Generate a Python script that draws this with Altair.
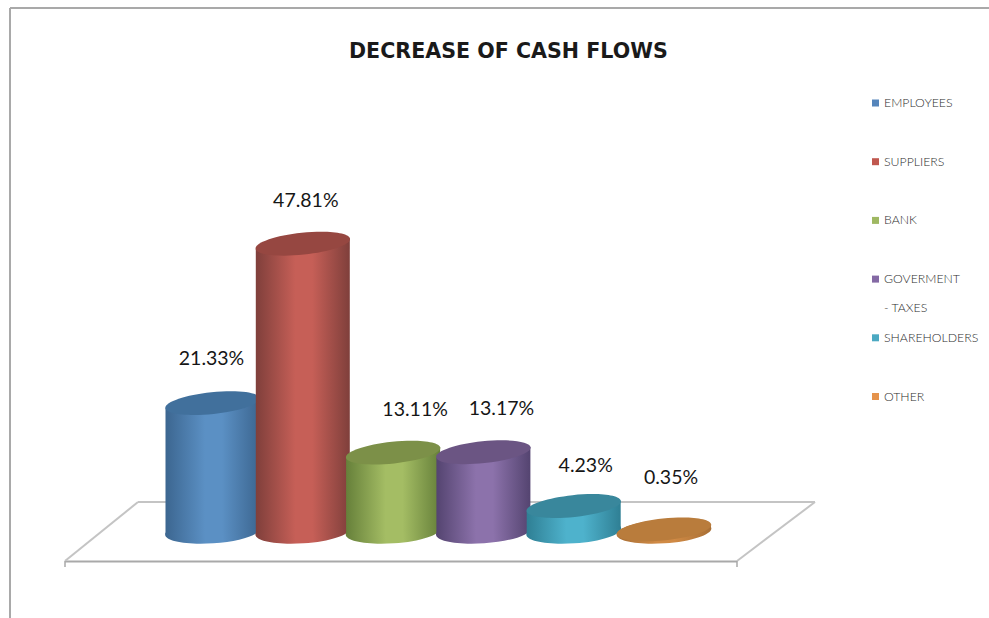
import altair as alt
import pandas as pd

# Chart values
CATEGORIES = ["EMPLOYEES", "SUPPLIERS", "BANK", "GOVERMENT - TAXES", "SHAREHOLDERS", "OTHER"]
SHARES = [21.33, 47.81, 13.11, 13.17, 4.23, 0.35]
LEGEND_LINES = ["EMPLOYEES", "SUPPLIERS", "BANK", "GOVERMENT", "- TAXES", "SHAREHOLDERS", "OTHER"]
LEGEND_ROWS = [0, 1, 2, 3, 3.5, 4, 5]
LEGEND_SWATCH_ROWS = [0, 1, 2, 3, 4, 5]

# Colours per cylinder: legend swatch, cap, shaded edge, lit centre
SWATCH = ["#5585bb", "#c0584f", "#9fb862", "#8469a4", "#4ba9c2", "#e5934c"]
CAP = ["#41709c", "#964741", "#7c9048", "#6b5583", "#39879c", "#b97c3c"]
EDGE = ["#3c6690", "#7f3f3b", "#66803a", "#544470", "#2f7f94", "#a86f35"]
LIT = ["#5b90c4", "#c65f57", "#a4bd64", "#8c72ab", "#4eb2cc", "#d08a45"]

# Small nudges that keep the percentage labels clear of neighbouring cylinders
LABEL_DX = [-1, 3, 22, 18, 12, 7]
LABEL_DY = [-44, -43, -43, -43, -40, -51]

W, H = 989, 618
PX_PER_SLOT = 90.3
FIRST_CENTRE = 212.5
PX_PER_PCT = 6.02
BASE_Y = 531.5
CAP_RX = 47.5
HALF_SLOT = 47.0 / PX_PER_SLOT
TOP_SLANT = 5.2 / PX_PER_PCT
BOTTOM_SLANT = 2.6 / PX_PER_PCT

# Scales map slot numbers and percentages onto the full canvas
x_scale = alt.Scale(domain=[-FIRST_CENTRE / PX_PER_SLOT, (W - FIRST_CENTRE) / PX_PER_SLOT], range=[0, W], nice=False, zero=False)
y_scale = alt.Scale(domain=[-(H - BASE_Y) / PX_PER_PCT, BASE_Y / PX_PER_PCT], range=[H, 0], nice=False, zero=False)
row_scale = alt.Scale(domain=[-103 / 58.7, (H - 103) / 58.7], range=[0, H], nice=False, zero=False)

CAP_ELLIPSE = "M -1 0 A 1 0.23 0 1 1 1 0 A 1 0.23 0 1 1 -1 0 Z"
BASE_ELLIPSE = "M -1 0 A 1 0.25 0 1 1 1 0 A 1 0.25 0 1 1 -1 0 Z"
GREY = "#a9a9a9"
FLOOR = "#c4c4c4"


def rule(x1, y1, x2, y2, color, width):
    return alt.Chart().mark_rule(color=color, strokeWidth=width).encode(
        x=alt.value(x1), x2=alt.value(x2), y=alt.value(y1), y2=alt.value(y2)
    )


def shading(edge, lit):
    return alt.LinearGradient(
        gradient="linear", x1=0, x2=1, y1=0, y2=0,
        stops=[
            alt.GradientStop(color=edge, offset=0),
            alt.GradientStop(color=lit, offset=0.42),
            alt.GradientStop(color=lit, offset=0.6),
            alt.GradientStop(color=edge, offset=1),
        ],
    )


layers = [
    # Outer frame
    rule(10, 8, W, 8, GREY, 2),
    rule(10, 8, 10, H, GREY, 2),
    # Chart floor drawn in perspective
    rule(138, 502, 815, 502, FLOOR, 2),
    rule(65, 561.5, 737, 561.5, GREY, 2),
    rule(65, 561, 138, 502, FLOOR, 2),
    rule(737, 561, 815, 502, FLOOR, 2),
    rule(65, 561, 65, 567, GREY, 1.5),
    rule(737, 561, 737, 567, GREY, 1.5),
]

# Each cylinder is a base ellipse, a shaded body and a darker cap, painted left to right
for i, (cat, share) in enumerate(zip(CATEGORIES, SHARES)):
    fill = shading(EDGE[i], LIT[i])
    cap_df = pd.DataFrame({"slot": [i], "share": [share], "base": [0.0], "cat": [cat]})
    body_df = pd.DataFrame({
        "slot": [i - HALF_SLOT, i + HALF_SLOT],
        "top": [share - TOP_SLANT, share + TOP_SLANT],
        "bottom": [-BOTTOM_SLANT, BOTTOM_SLANT],
    })
    common_mark = dict(filled=True, size=(2 * CAP_RX) ** 2, opacity=1, strokeWidth=0)
    layers.append(
        alt.Chart(cap_df).mark_point(fill=fill, shape=BASE_ELLIPSE, angle=356, **common_mark).encode(
            x=alt.X("slot:Q", scale=x_scale, axis=None),
            y=alt.Y("base:Q", scale=y_scale, axis=None),
        )
    )
    layers.append(
        alt.Chart(body_df).mark_area(fill=fill, orient="vertical").encode(
            x=alt.X("slot:Q", scale=x_scale, axis=None),
            y=alt.Y("top:Q", scale=y_scale, axis=None),
            y2="bottom:Q",
        )
    )
    layers.append(
        alt.Chart(cap_df).mark_point(fill=CAP[i], shape=CAP_ELLIPSE, angle=354, **common_mark).encode(
            x=alt.X("slot:Q", scale=x_scale, axis=None),
            y=alt.Y("share:Q", scale=y_scale, axis=None),
        )
    )

# Percentage labels sit on top of every cylinder
for i, share in enumerate(SHARES):
    label_df = pd.DataFrame({"slot": [i], "share": [share], "text": [f"{share:.2f}%"]})
    layers.append(
        alt.Chart(label_df).mark_text(
            font="Lato", fontSize=19.5, color="#161616", dx=LABEL_DX[i], dy=LABEL_DY[i]
        ).encode(
            x=alt.X("slot:Q", scale=x_scale, axis=None),
            y=alt.Y("share:Q", scale=y_scale, axis=None),
            text="text:N",
        )
    )

# Legend column on the right
swatch_df = pd.DataFrame({"row": LEGEND_SWATCH_ROWS, "cat": CATEGORIES})
layers.append(
    alt.Chart(swatch_df).mark_point(filled=True, shape="square", size=49, opacity=1).encode(
        x=alt.value(875.5),
        y=alt.Y("row:Q", scale=row_scale, axis=None),
        color=alt.Color("cat:N", scale=alt.Scale(domain=CATEGORIES, range=SWATCH), legend=None),
    )
)
legend_df = pd.DataFrame({"row": LEGEND_ROWS, "line": LEGEND_LINES})
layers.append(
    alt.Chart(legend_df).mark_text(
        font="Lato", fontSize=12.3, fontWeight=300, color="#2e2e2e", align="left"
    ).encode(
        x=alt.value(884),
        y=alt.Y("row:Q", scale=row_scale, axis=None),
        text="line:N",
    )
)

chart = (
    alt.layer(*layers)
    .resolve_scale(y="independent", x="independent", color="independent")
    .properties(
        width=W,
        height=H,
        padding=0,
        autosize=alt.AutoSizeParams(type="none"),
        title=alt.TitleParams(
            "DECREASE OF CASH FLOWS",
            font="DejaVu Sans", fontSize=20.6, fontWeight="bold", color="#1a1a1a",
            anchor="start", frame="group", dx=349, dy=67,
        ),
    )
    .configure_view(stroke=None)
)

chart.save("out.html", embed_options={"renderer": "svg", "actions": False})
